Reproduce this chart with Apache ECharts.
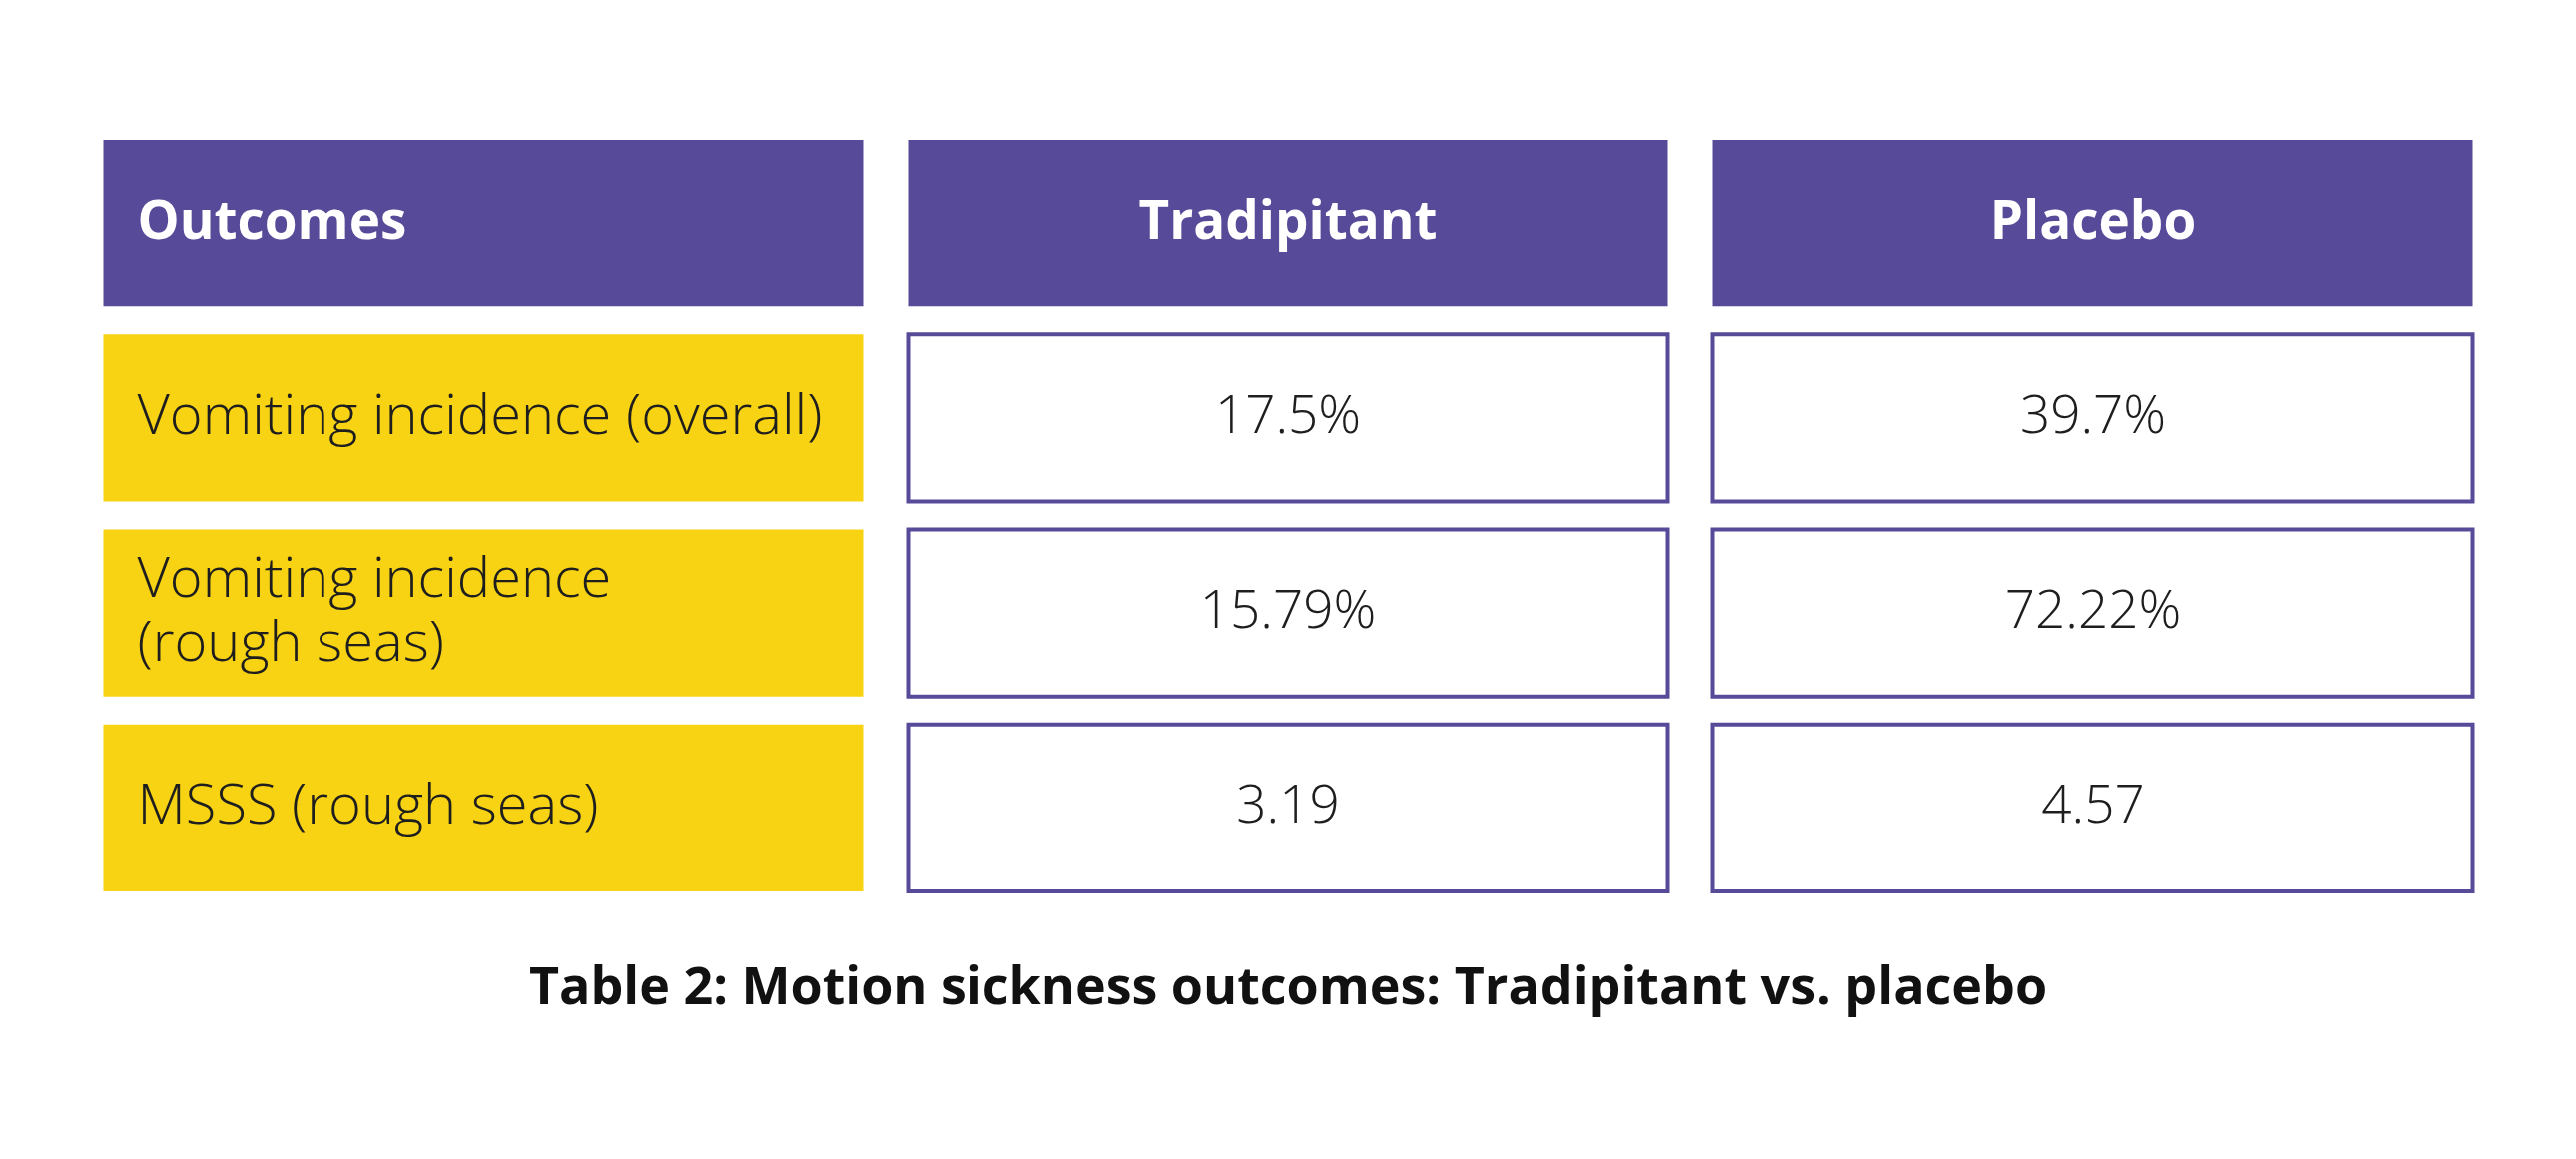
<!DOCTYPE html>
<html>
<head>
<meta charset="utf-8">
<title>Motion sickness outcomes</title>
<script src="https://cdn.jsdelivr.net/npm/echarts@6/dist/echarts.min.js"></script>
<style>
  html, body { margin: 0; padding: 0; background: #fff; }
  #chart { width: 2580px; height: 1161px; }
</style>
</head>
<body>
<div id="chart"></div>
<script>
// table content
var columns = ['Outcomes', 'Tradipitant', 'Placebo'];
var outcomes = ['Vomiting incidence (overall)', 'Vomiting incidence\n(rough seas)', 'MSSS (rough seas)'];
var tradipitant = [17.5, 15.79, 3.19];
var placebo = [39.7, 72.22, 4.57];
var units = ['%', '%', ''];
var rows = ['header', 'overall', 'rough', 'msss'];

var PURPLE = '#574a99';
var YELLOW = '#f8d313';
var FONT = '"Open Sans", Lato, sans-serif';

// one item per cell: [column, row, text]
var cells = [];
columns.forEach(function (c, i) {
    cells.push([i, 0, c]);
});
outcomes.forEach(function (o, r) {
    cells.push([0, r + 1, o]);
    cells.push([1, r + 1, tradipitant[r] + units[r]]);
    cells.push([2, r + 1, placebo[r] + units[r]]);
});

var chart = echarts.init(document.getElementById('chart'));

var option = {
    backgroundColor: '#fff',
    animation: false,
    title: {
        text: 'Table 2: Motion sickness outcomes: Tradipitant vs. placebo',
        left: 'center',
        top: 960,
        textStyle: {
            fontFamily: FONT,
            fontWeight: 'bold',
            fontSize: 52,
            color: '#111'
        }
    },
    grid: {
        left: 81,
        right: 81,
        top: 126,
        bottom: 254
    },
    xAxis: {
        type: 'category',
        data: columns,
        show: false
    },
    yAxis: {
        type: 'category',
        data: rows,
        inverse: true,
        show: false
    },
    series: [{
        type: 'custom',
        data: cells,
        encode: {x: 0, y: 1},
        renderItem: function (params, api) {
            var col = api.value(0);
            var row = api.value(1);
            var text = cells[params.dataIndex][2];
            var center = api.coord([col, row]);
            var band = api.size([1, 1]);
            var w = band[0] - 41;
            var h = band[1] - 24;
            var x0 = center[0] - w / 2;
            var y0 = center[1] - h / 2;

            var rectStyle, textFill, font;
            if (row === 0) {
                rectStyle = {fill: PURPLE};
                textFill = '#fff';
                font = 'bold 53px ' + FONT;
            } else if (col === 0) {
                rectStyle = {fill: YELLOW};
                textFill = '#1e1e1e';
                font = '300 56px ' + FONT;
            } else {
                rectStyle = {fill: '#fff', stroke: PURPLE, lineWidth: 4};
                textFill = '#1e1e1e';
                font = '300 53px ' + FONT;
            }

            var leftAlign = col === 0;
            return {
                type: 'group',
                children: [{
                    type: 'rect',
                    shape: {x: x0 + 2, y: y0 + 2, width: w - 4, height: h - 4},
                    style: rectStyle
                }, {
                    type: 'text',
                    style: {
                        x: leftAlign ? x0 + 36 : center[0],
                        y: center[1],
                        text: text,
                        fill: textFill,
                        font: font,
                        lineHeight: 64,
                        align: leftAlign ? 'left' : 'center',
                        verticalAlign: 'middle'
                    }
                }]
            };
        }
    }]
};

chart.setOption(option);
</script>
</body>
</html>
